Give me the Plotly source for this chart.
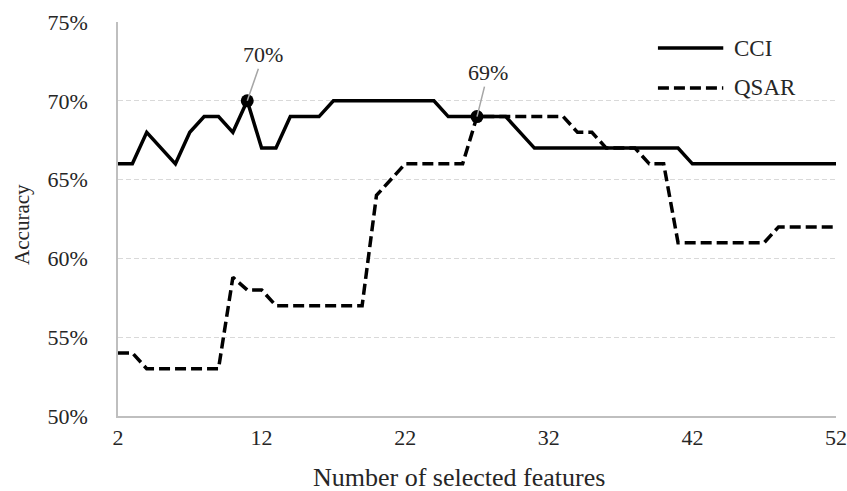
import plotly.graph_objects as go

# ---- data ----
features = list(range(2, 53))
cci = [66, 66, 68, 67, 66, 68, 69, 69, 68, 70,
       67, 67, 69, 69, 69, 70, 70, 70, 70, 70,
       70, 70, 70, 69, 69, 69, 69, 69, 68, 67,
       67, 67, 67, 67, 67, 67, 67, 67, 67, 67,
       66, 66, 66, 66, 66, 66, 66, 66, 66, 66, 66]
qsar = [54, 54, 53, 53, 53, 53, 53, 53, 58.8, 58,
        58, 57, 57, 57, 57, 57, 57, 57, 64, 65,
        66, 66, 66, 66, 66, 69, 69, 69, 69, 69,
        69, 69, 68, 68, 67, 67, 67, 66, 66, 61,
        61, 61, 61, 61, 61, 61, 62, 62, 62, 62, 62]
highlight_features = [11, 27]
highlight_labels = ["70%", "69%"]
x_ticks = [2, 12, 22, 32, 42, 52]
y_ticks = [50, 55, 60, 65, 70, 75]
series_names = ["CCI", "QSAR"]
x_title = "Number of selected features"
y_title = "Accuracy"

FONT = "Liberation Serif, Times New Roman, serif"
TXT = "#262626"
highlight_vals = [cci[features.index(f)] for f in highlight_features]

fig = go.Figure()
fig.add_trace(go.Scatter(x=features, y=qsar, mode="lines", name=series_names[1],
                         line=dict(color="black", width=3.5, dash="11px,5px"),
                         showlegend=False))
fig.add_trace(go.Scatter(x=features, y=cci, mode="lines", name=series_names[0],
                         line=dict(color="black", width=3.5),
                         showlegend=False))
fig.add_trace(go.Scatter(x=highlight_features, y=highlight_vals, mode="markers",
                         marker=dict(color="black", size=13), showlegend=False))

# annotations for highlighted points
offsets = [(16, -46), (11, -44)]
for f, v, lab, (ax, ay) in zip(highlight_features, highlight_vals, highlight_labels, offsets):
    fig.add_annotation(x=f, y=v, text=lab, showarrow=True, arrowhead=0,
                       arrowwidth=1.5, arrowcolor="#a6a6a6", ax=ax, ay=ay,
                       font=dict(family=FONT, size=22, color=TXT))

# custom legend (paper coordinates)
legend_rows = [(0.934, "solid", series_names[0]), (0.8325, "11px,5px", series_names[1])]
for yy, dash, name in legend_rows:
    fig.add_shape(type="line", xref="paper", yref="paper", x0=0.752, x1=0.843,
                  y0=yy, y1=yy, line=dict(color="black", width=3.5, dash=dash))
    fig.add_annotation(xref="paper", yref="paper", x=0.855, y=yy, text=name,
                       showarrow=False, xanchor="left", yanchor="middle",
                       font=dict(family=FONT, size=23, color=TXT))

# axis titles
fig.add_annotation(xref="paper", yref="paper", x=0.475, y=-0.155, text=x_title,
                   showarrow=False, xanchor="center", yanchor="middle",
                   font=dict(family=FONT, size=26, color=TXT))
fig.add_annotation(xref="paper", yref="paper", x=-0.1337, y=0.485, text=y_title,
                   showarrow=False, xanchor="center", yanchor="middle", textangle=-90,
                   font=dict(family=FONT, size=21, color=TXT))

fig.update_layout(
    width=847, height=491, autosize=False,
    margin=dict(l=118, r=11, t=22, b=75),
    paper_bgcolor="white", plot_bgcolor="white",
    font=dict(family=FONT, size=22, color=TXT),
)
fig.update_xaxes(range=[2, 52], tickvals=x_ticks, ticktext=[str(t) for t in x_ticks],
                 showgrid=False, zeroline=False, showline=True, linecolor="#bfbfbf",
                 linewidth=1.5, ticks="", ticklabelstandoff=1, automargin=False,
                 tickfont=dict(family=FONT, size=22, color=TXT))
fig.update_yaxes(range=[50, 75], tickvals=y_ticks, ticktext=[f"{t}%" for t in y_ticks],
                 showgrid=True, gridcolor="#d9d9d9", gridwidth=1, griddash="5px,3px",
                 zeroline=False, showline=True, linecolor="#bfbfbf", linewidth=1.5,
                 ticks="", ticklabelstandoff=24, automargin=False,
                 tickfont=dict(family=FONT, size=22, color=TXT))

# remove the default page margin so the figure sits at the window's top-left corner
fig.write_html("out.html",
               config={"displayModeBar": False},
               post_script="document.body.style.margin='0';document.body.style.overflow='hidden';")
